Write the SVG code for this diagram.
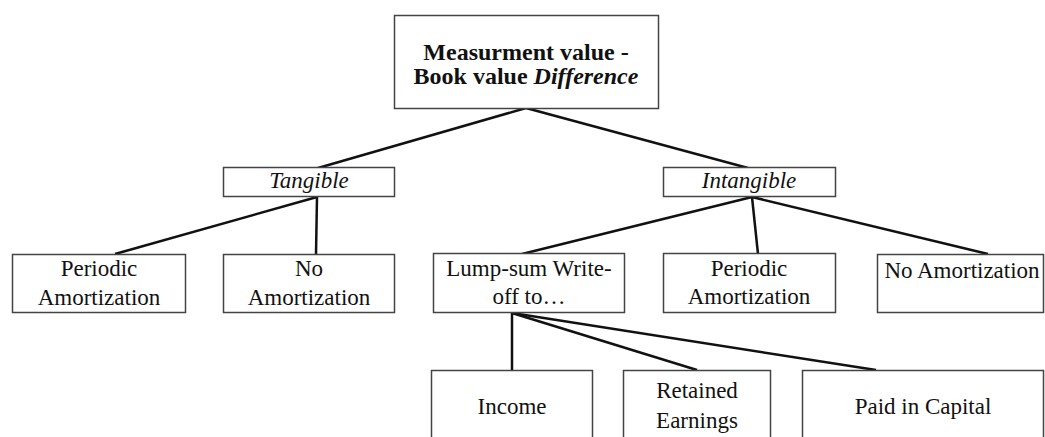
<svg xmlns="http://www.w3.org/2000/svg" width="1045" height="437" viewBox="0 0 1045 437">
<style>
.box{fill:#fff;stroke:#444;stroke-width:1.5}
text{font-family:'Liberation Serif','Times New Roman',serif;font-size:23px;fill:#111;text-anchor:middle}
.b{font-weight:bold;font-size:24px}
.i{font-style:italic}
.c line{stroke:#111;stroke-width:2.5}
</style>
<rect width="1045" height="437" fill="#fff"/>
<g class="c" id="connectors">
<line x1="526" y1="108" x2="318" y2="168"/>
<line x1="526" y1="108" x2="748" y2="168"/>
<line x1="317" y1="197" x2="115" y2="254"/>
<line x1="317" y1="197" x2="316" y2="254"/>
<line x1="752" y1="197" x2="522" y2="254"/>
<line x1="752" y1="197" x2="758" y2="254"/>
<line x1="752" y1="197" x2="988" y2="254"/>
<line x1="512" y1="313" x2="512" y2="370"/>
<line x1="512" y1="313" x2="697" y2="370"/>
<line x1="512" y1="313" x2="876" y2="370"/>
</g>
<g id="root"><rect class="box" x="394.5" y="15.5" width="264" height="93"/>
<text class="b" x="526" y="60">Measurment value -</text>
<text class="b" x="526" y="84">Book value <tspan class="i">Difference</tspan></text></g>
<g id="tangible"><rect class="box" x="223.5" y="167.5" width="171" height="29"/><text class="i" x="309" y="188">Tangible</text></g>
<g id="intangible"><rect class="box" x="663.5" y="167.5" width="172" height="29"/><text class="i" x="749" y="188">Intangible</text></g>
<g id="t-periodic"><rect class="box" x="12.5" y="254.5" width="173" height="58"/><text x="99" y="276">Periodic</text><text x="99" y="305">Amortization</text></g>
<g id="t-noamort"><rect class="box" x="223.5" y="254.5" width="171" height="58"/><text x="309" y="276">No</text><text x="309" y="305">Amortization</text></g>
<g id="lumpsum"><rect class="box" x="433.5" y="253.5" width="191" height="59"/><text x="529" y="276">Lump-sum Write-</text><text x="529" y="304">off to…</text></g>
<g id="i-periodic"><rect class="box" x="663.5" y="253.5" width="172" height="59"/><text x="749" y="276">Periodic</text><text x="749" y="304">Amortization</text></g>
<g id="i-noamort"><rect class="box" x="877.5" y="254.5" width="166" height="58"/><text x="962" y="278">No Amortization</text></g>
<g id="income"><rect class="box" x="431.5" y="370.5" width="161" height="80"/><text x="512" y="414">Income</text></g>
<g id="retained"><rect class="box" x="623.5" y="370.5" width="147" height="80"/><text x="697" y="398">Retained</text><text x="697" y="428">Earnings</text></g>
<g id="paid"><rect class="box" x="802.5" y="370.5" width="241" height="80"/><text x="923" y="414">Paid in Capital</text></g>
</svg>
